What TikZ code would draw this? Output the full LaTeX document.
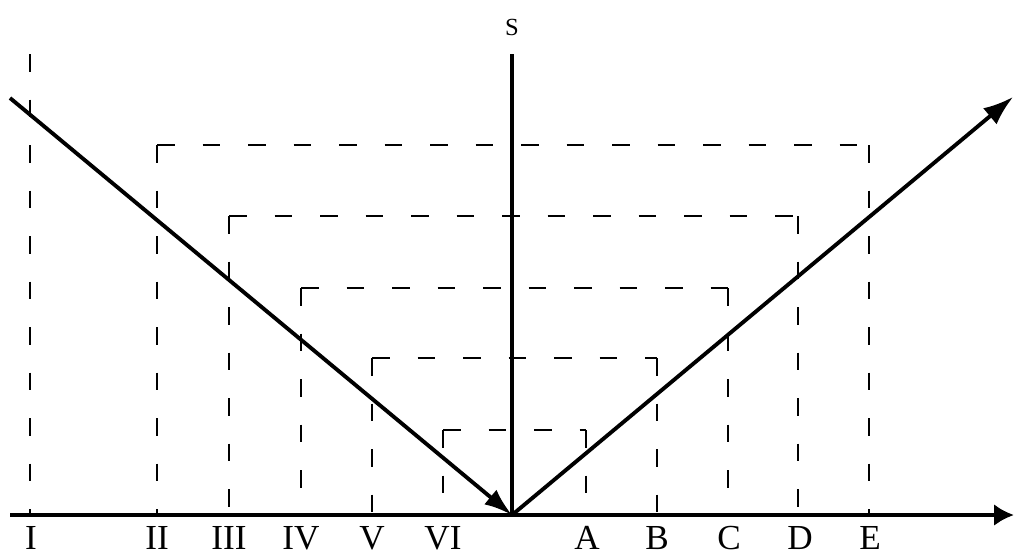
\documentclass[tikz,border=0pt]{standalone}
\usepackage{fontspec}
\setmainfont{Liberation Serif}
\usetikzlibrary{arrows.meta, positioning}

\tikzset{
  axisline/.style={line width=2.2pt},
  guide/.style={line width=1.4pt, dash pattern=on 3.5mm off 5.6mm},
  ticklabel/.style={font=\fontsize{20}{22}\selectfont, inner sep=0pt}
}

\begin{document}
\begin{tikzpicture}[x=0.2mm, y=-0.2mm]
            \useasboundingbox (0,0) rectangle (1015,556);
            % axes and rays
            \coordinate (o) at (512,515);
            \coordinate (xstart) at (10,515);
            \coordinate (xend) at (1014,515);
            \coordinate (stop) at (512,54);
            \coordinate (in) at (10,98);
            \coordinate (out) at (1013,97);
            \node[font=\fontsize{14}{16}\selectfont, inner sep=0pt] (s) at (512,27) {S};
            % tops of the dashed lines
            \coordinate (tI) at (30,54);
            \coordinate (tII) at (157,145);
            \coordinate (tIII) at (229,216);
            \coordinate (tIV) at (301,288);
            \coordinate (tV) at (372,358);
            \coordinate (tVI) at (443,430);
            \coordinate (tA) at (586,430);
            \coordinate (tB) at (657,358);
            \coordinate (tC) at (728,288);
            \coordinate (tD) at (798,216);
            \coordinate (tE) at (869,145);
            \draw[guide] (tI) -- (tI |- o);
            \draw[guide] (tII) -- (tII |- o);
            \draw[guide] (tII) -- (tE);
            \draw[guide] (tE) -- (tE |- o);
            \draw[guide] (tIII) -- (tIII |- o);
            \draw[guide] (tIII) -- (tD);
            \draw[guide] (tD) -- (tD |- o);
            \draw[guide] (tIV) -- (tIV |- o);
            \draw[guide] (tIV) -- (tC);
            \draw[guide] (tC) -- (tC |- o);
            \draw[guide] (tV) -- (tV |- o);
            \draw[guide] (tV) -- (tB);
            \draw[guide] (tB) -- (tB |- o);
            \draw[guide] (tVI) -- (tVI |- o);
            \draw[guide] (tVI) -- (tA);
            \draw[guide] (tA) -- (tA |- o);
            \draw[axisline, -{Latex[length=4mm, width=4.4mm]}] (xstart) -- (xend);
            \draw[axisline] (o) -- (stop);
            \draw[axisline, -{Latex[length=5.6mm, width=3.8mm]}] (in) -- (o);
            \draw[axisline, -{Latex[length=6mm, width=4.2mm]}] (o) -- (out);
            % labels under the axis
            \node[ticklabel] (lI) at (31,538) {I};
            \node[ticklabel] (lII) at (157,538) {II};
            \node[ticklabel] (lIII) at (229,538) {III};
            \node[ticklabel] (lIV) at (301,538) {IV};
            \node[ticklabel] (lV) at (372,538) {V};
            \node[ticklabel] (lVI) at (443,538) {VI};
            \node[ticklabel] (lA) at (587,538) {A};
            \node[ticklabel] (lB) at (657,538) {B};
            \node[ticklabel] (lC) at (729,538) {C};
            \node[ticklabel] (lD) at (800,538) {D};
            \node[ticklabel] (lE) at (870,538) {E};
        \end{tikzpicture}
\end{document}
